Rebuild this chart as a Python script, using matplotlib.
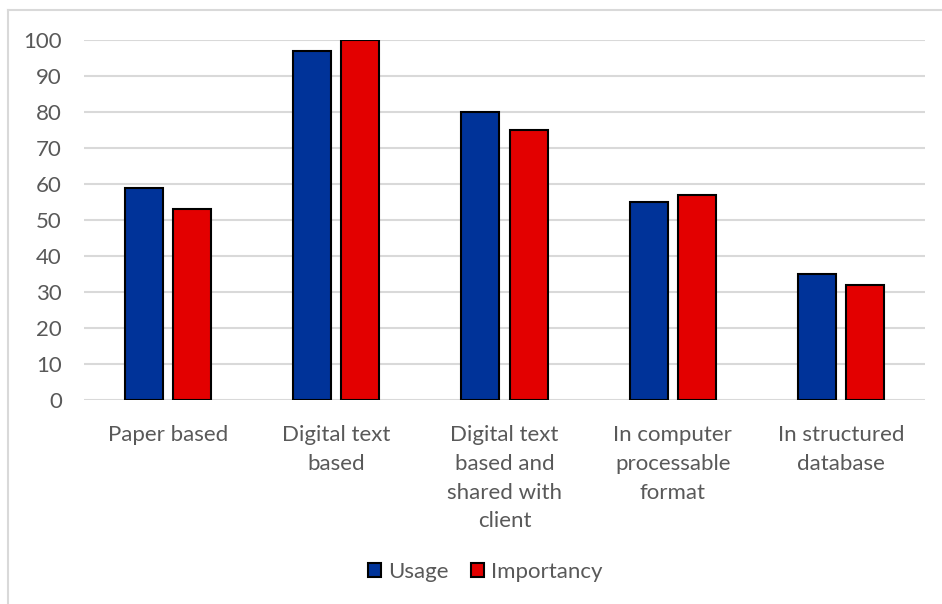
import numpy as np
import matplotlib.pyplot as plt
from matplotlib.lines import Line2D

categories = ["Paper based", "Digital text\nbased", "Digital text\nbased and\nshared with\nclient",
              "In computer\nprocessable\nformat", "In structured\ndatabase"]
usage = [59, 97, 80, 55, 35]
importancy = [53, 100, 75, 57, 32]
yticks = [0, 10, 20, 30, 40, 50, 60, 70, 80, 90, 100]

plt.rcParams['font.family'] = ['Lato', 'DejaVu Sans']
text_color = "#595959"
fsize = 16

fig = plt.figure(figsize=(9.42, 6.04), dpi=100)
ax = fig.add_axes([84 / 942, 1 - 400 / 604, (925 - 84) / 942, 360 / 604])

x = np.arange(len(categories))
width = 0.226
offset = 0.143
ax.bar(x - offset, usage, width, color="#003399", edgecolor="black", linewidth=1.5, label="Usage", zorder=3)
ax.bar(x + offset, importancy, width, color="#E30000", edgecolor="black", linewidth=1.5, label="Importancy", zorder=3)

ax.set_xlim(-0.5, len(categories) - 0.5)
ax.set_ylim(0, 100)
ax.set_yticks(yticks)
ax.yaxis.grid(True, color="#d9d9d9", linewidth=1.5, zorder=0)
ax.set_axisbelow(True)
for s in ax.spines.values():
    s.set_visible(False)
ax.tick_params(axis="both", length=0, labelsize=fsize, colors=text_color)
ax.tick_params(axis="y", pad=16)
ax.tick_params(axis="x", pad=18)
ax.set_xticks(x)
ax.set_xticklabels(categories, linespacing=1.55)

handles = [plt.Rectangle((0, 0), 1, 1, facecolor="#003399", edgecolor="black", linewidth=1.5),
           plt.Rectangle((0, 0), 1, 1, facecolor="#E30000", edgecolor="black", linewidth=1.5)]
fig.legend(handles, ["Usage", "Importancy"], loc="center", bbox_to_anchor=(485 / 942, 1 - 572 / 604),
           ncol=2, frameon=False, fontsize=fsize, labelcolor=text_color,
           handlelength=0.6, handleheight=0.6, handletextpad=0.3, columnspacing=1.0)

# light outer frame of the chart area
fig.add_artist(Line2D([8 / 942, 1], [1 - 10 / 604, 1 - 10 / 604], color="#d9d9d9", linewidth=1.5))
fig.add_artist(Line2D([8 / 942, 8 / 942], [0, 1 - 10 / 604], color="#d9d9d9", linewidth=1.5))

fig.savefig("out.png", dpi=100, facecolor="white")
